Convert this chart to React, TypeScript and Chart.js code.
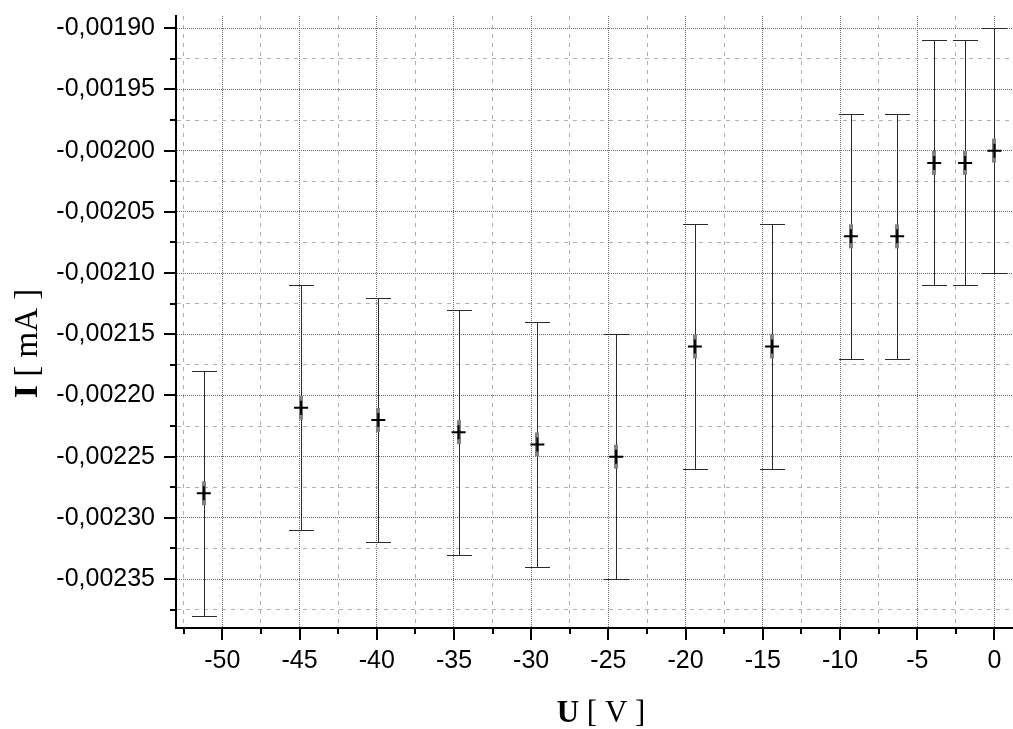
import React, { useEffect, useRef } from "react";
import { Chart, registerables } from "chart.js";

Chart.register(...registerables);

// Data
const U_VALUES = [-51.2, -44.9, -39.9, -34.7, -29.6, -24.5, -19.4, -14.4, -9.3, -6.3, -3.9, -1.9, 0];
const I_VALUES = [-0.00228, -0.00221, -0.00222, -0.00223, -0.00224, -0.00225, -0.00216, -0.00216, -0.00207, -0.00207, -0.00201, -0.00201, -0.002];
const I_ERRORS = [0.0001, 0.0001, 0.0001, 0.0001, 0.0001, 0.0001, 0.0001, 0.0001, 0.0001, 0.0001, 0.0001, 0.0001, 0.0001];

const X_MAJOR_TICKS = [-50, -45, -40, -35, -30, -25, -20, -15, -10, -5, 0];
const X_MINOR_TICKS = [-52.5, -47.5, -42.5, -37.5, -32.5, -27.5, -22.5, -17.5, -12.5, -7.5, -2.5];
const Y_MAJOR_TICKS = [-0.00235, -0.0023, -0.00225, -0.0022, -0.00215, -0.0021, -0.00205, -0.002, -0.00195, -0.0019];
const Y_MINOR_TICKS = [-0.002375, -0.002325, -0.002275, -0.002225, -0.002175, -0.002125, -0.002075, -0.002025, -0.001975, -0.001925];

const X_MIN = -53;
const X_MAX = 1.2;
const Y_MIN = -0.00239;
const Y_MAX = -0.00189;

const X_TITLE_BOLD = "U";
const X_TITLE_REST = " [ V ]";
const Y_TITLE_BOLD = "I";
const Y_TITLE_REST = " [ mA ]";

const isMajorX = (v: number) => X_MAJOR_TICKS.some((m) => Math.abs(m - v) < 1e-6);
const isMajorY = (v: number) => Y_MAJOR_TICKS.some((m) => Math.abs(m - v) < 1e-9);

const SANS = "'Liberation Sans', Arial, Helvetica, sans-serif";
const SERIF = "'Liberation Serif', 'Times New Roman', serif";

const gridColor = (major: boolean) => (major ? "#6a6a6a" : "#b0b0b0");
const gridDash = (major: boolean) => (major ? [1, 1] : [4, 5]);

const decorPlugin = {
  id: "decor",
  afterLayout(chart: any) {
    // let the plot area run to the right edge of the canvas, as in the reference
    const xs = chart.scales.x;
    const target = chart.width;
    if (xs && Math.abs(xs.right - target) > 0.1) {
      xs.right = target;
      xs.width = target - xs.left;
      xs.configure();
      chart.chartArea.right = target;
      chart.chartArea.width = target - chart.chartArea.left;
    }
  },
  beforeDatasetsDraw(chart: any) {
    const { ctx } = chart;
    const xs = chart.scales.x;
    const ys = chart.scales.y;
    ctx.save();
    for (let i = 0; i < U_VALUES.length; i++) {
      const px = Math.round(xs.getPixelForValue(U_VALUES[i])) + 0.5;
      const pTop = Math.round(ys.getPixelForValue(I_VALUES[i] + I_ERRORS[i])) + 0.5;
      const pBot = Math.round(ys.getPixelForValue(I_VALUES[i] - I_ERRORS[i])) + 0.5;
      const pc = ys.getPixelForValue(I_VALUES[i]);
      ctx.strokeStyle = "#2a2a2a";
      ctx.lineWidth = 1;
      ctx.setLineDash([]);
      ctx.beginPath();
      ctx.moveTo(px, pTop);
      ctx.lineTo(px, pBot);
      ctx.moveTo(px - 12.5, pTop);
      ctx.lineTo(px + 12.5, pTop);
      ctx.moveTo(px - 12.5, pBot);
      ctx.lineTo(px + 12.5, pBot);
      ctx.stroke();
      ctx.fillStyle = "#808080";
      ctx.fillRect(px - 2.5, pc - 12, 4, 24);
    }
    ctx.restore();
  },
  afterDraw(chart: any) {
    const { ctx, chartArea } = chart;
    const xs = chart.scales.x;
    const ys = chart.scales.y;
    ctx.save();
    ctx.strokeStyle = "#000";
    ctx.lineWidth = 2;
    ctx.setLineDash([]);
    ctx.beginPath();
    [...X_MAJOR_TICKS, ...X_MINOR_TICKS].forEach((v) => {
      const len = isMajorX(v) ? 12 : 6;
      const p = Math.round(xs.getPixelForValue(v));
      ctx.moveTo(p, chartArea.bottom);
      ctx.lineTo(p, chartArea.bottom + len);
    });
    [...Y_MAJOR_TICKS, ...Y_MINOR_TICKS].forEach((v) => {
      const len = isMajorY(v) ? 12 : 6;
      const p = Math.round(ys.getPixelForValue(v));
      ctx.moveTo(chartArea.left - len, p);
      ctx.lineTo(chartArea.left, p);
    });
    ctx.stroke();

    // axis titles
    ctx.fillStyle = "#000";
    ctx.textBaseline = "alphabetic";
    ctx.textAlign = "left";
    // x title
    ctx.font = `bold 31px ${SERIF}`;
    const xb = ctx.measureText(X_TITLE_BOLD).width;
    ctx.font = `31px ${SERIF}`;
    const xr = ctx.measureText(X_TITLE_REST).width;
    const xStart = 601 - (xb + xr) / 2;
    ctx.font = `bold 31px ${SERIF}`;
    ctx.fillText(X_TITLE_BOLD, xStart, 722);
    ctx.font = `31px ${SERIF}`;
    ctx.fillText(X_TITLE_REST, xStart + xb, 722);
    // y title
    ctx.translate(37, 343.5);
    ctx.rotate(-Math.PI / 2);
    ctx.font = `bold 34px ${SERIF}`;
    const yb = ctx.measureText(Y_TITLE_BOLD).width;
    ctx.font = `33px ${SERIF}`;
    const yr = ctx.measureText(Y_TITLE_REST).width;
    const yStart = -(yb + yr) / 2;
    ctx.font = `bold 34px ${SERIF}`;
    ctx.fillText(Y_TITLE_BOLD, yStart, 0);
    ctx.font = `33px ${SERIF}`;
    ctx.fillText(Y_TITLE_REST, yStart + yb, 0);
    ctx.restore();
  },
};

export default function App() {
  const canvasRef = useRef<HTMLCanvasElement | null>(null);

  useEffect(() => {
    if (!canvasRef.current) return;
    const chart = new Chart(canvasRef.current, {
      type: "scatter",
      data: {
        datasets: [
          {
            data: U_VALUES.map((u, i) => ({ x: u, y: I_VALUES[i] })),
            pointStyle: "cross",
            pointRadius: 7,
            pointBorderWidth: 2,
            borderColor: "#000",
            backgroundColor: "#000",
            pointHoverRadius: 7,
            clip: false,
          },
        ],
      },
      options: {
        animation: false,
        responsive: false,
        layout: { padding: { top: 16, right: 0, left: 0, bottom: 0 } },
        plugins: { legend: { display: false }, tooltip: { enabled: false } },
        scales: {
          x: {
            type: "linear",
            min: X_MIN,
            max: X_MAX,
            afterBuildTicks: (scale: any) => {
              scale.ticks = [...X_MINOR_TICKS, ...X_MAJOR_TICKS]
                .sort((a, b) => a - b)
                .map((v) => ({ value: v }));
            },
            afterFit: (scale: any) => {
              scale.height = 101;
              scale.paddingLeft = 0;
              scale.paddingRight = 0;
              scale.paddingTop = 0;
              scale.paddingBottom = 0;
            },
            ticks: {
              autoSkip: false,
              maxRotation: 0,
              minRotation: 0,
              padding: 6,
              color: "#000",
              font: { family: SANS, size: 25 },
              callback: (v: any) => (isMajorX(Number(v)) ? String(Math.round(Number(v))) : ""),
            },
            grid: {
              drawTicks: true,
              tickLength: 12,
              tickColor: "rgba(0,0,0,0)",
              lineWidth: 1,
              color: (c: any) => gridColor(c.tick ? isMajorX(c.tick.value) : true),
            },
            border: {
              display: true,
              color: "#000",
              width: 2,
              dash: (c: any) => gridDash(c.tick ? isMajorX(c.tick.value) : true),
            },
          },
          y: {
            type: "linear",
            min: Y_MIN,
            max: Y_MAX,
            afterBuildTicks: (scale: any) => {
              scale.ticks = [...Y_MINOR_TICKS, ...Y_MAJOR_TICKS]
                .sort((a, b) => a - b)
                .map((v) => ({ value: v }));
            },
            afterFit: (scale: any) => {
              scale.width = 176;
              scale.paddingLeft = 0;
              scale.paddingRight = 0;
              scale.paddingTop = 0;
              scale.paddingBottom = 0;
            },
            ticks: {
              autoSkip: false,
              padding: 9,
              color: "#000",
              font: { family: SANS, size: 25 },
              callback: (v: any) =>
                isMajorY(Number(v)) ? Number(v).toFixed(5).replace(".", ",") : "",
            },
            grid: {
              drawTicks: true,
              tickLength: 12,
              tickColor: "rgba(0,0,0,0)",
              lineWidth: 1,
              color: (c: any) => gridColor(c.tick ? isMajorY(c.tick.value) : true),
            },
            border: {
              display: true,
              color: "#000",
              width: 2,
              dash: (c: any) => gridDash(c.tick ? isMajorY(c.tick.value) : true),
            },
          },
        },
      },
      plugins: [decorPlugin],
    } as any);
    return () => chart.destroy();
  }, []);

  return (
    <div style={{ position: "absolute", left: 0, top: 0, width: 1013, height: 729, background: "#fff" }}>
      <canvas ref={canvasRef} width={1013} height={729} style={{ display: "block" }} />
    </div>
  );
}
